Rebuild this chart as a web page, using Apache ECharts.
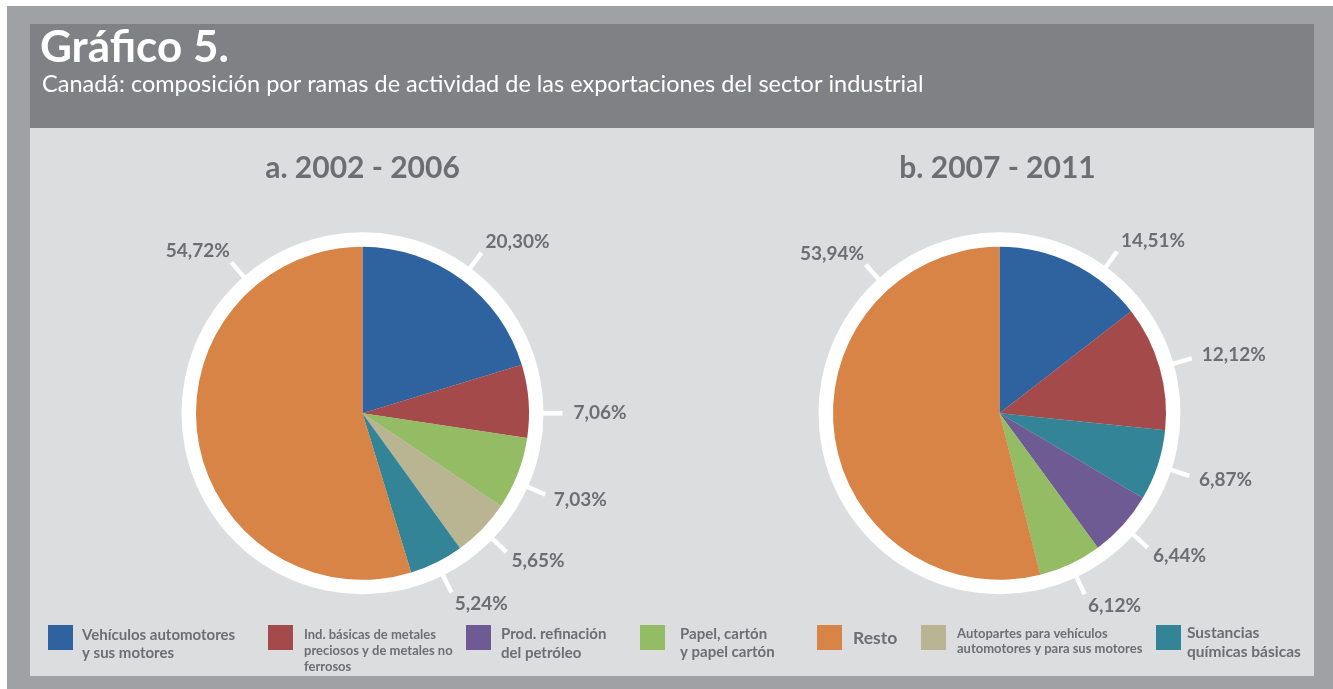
<!DOCTYPE html>
<html><head><meta charset="utf-8">
<script src="https://cdn.jsdelivr.net/npm/echarts@6/dist/echarts.min.js"></script>
<style>html,body{margin:0;padding:0;background:#fff}#c{width:1333px;height:689px}</style>
</head><body><div id="c"></div>
<script>
// ---------- DATA ----------
const chartTitle = 'Gráfico 5.';
const chartSubtitle = 'Canadá: composición por ramas de actividad de las exportaciones del sector industrial';
const categories = [
  'Vehículos automotores y sus motores',
  'Ind. básicas de metales preciosos y de metales no ferrosos',
  'Prod. refinación del petróleo',
  'Papel, cartón y papel cartón',
  'Resto',
  'Autopartes para vehículos automotores y para sus motores',
  'Sustancias químicas básicas'
];
const legendLabels = [
  'Vehículos automotores\ny sus motores',
  'Ind. básicas de metales\npreciosos y de metales no\nferrosos',
  'Prod. refinación\ndel petróleo',
  'Papel, cartón\ny papel cartón',
  'Resto',
  'Autopartes para vehículos\nautomotores y para sus motores',
  'Sustancias\nquímicas básicas'
];
const periodTitles = ['a. 2002 - 2006', 'b. 2007 - 2011'];
const namesA = [categories[0], categories[1], categories[3], categories[5], categories[6], categories[4]];
const valuesA = [20.30, 7.06, 7.03, 5.65, 5.24, 54.72];
const namesB = [categories[0], categories[1], categories[6], categories[2], categories[3], categories[4]];
const valuesB = [14.51, 12.12, 6.87, 6.44, 6.12, 53.94];

// ---------- STYLE ----------
const palette = {};
palette[categories[0]] = '#2e63a0';
palette[categories[1]] = '#a54a4b';
palette[categories[2]] = '#6f5b93';
palette[categories[3]] = '#94bc64';
palette[categories[4]] = '#d78446';
palette[categories[5]] = '#b9b593';
palette[categories[6]] = '#348498';
const GREY = '#6d6e71';
const FONT = 'Lato';
const R_PIE = 166.5, R_RING = 181, R_TICK = 200;
const centers = [[362.5, 413.3], [999.5, 413.3]];
// label angle overrides (degrees clockwise from 12 o'clock), layout only
const angleOverrides = [{}, {}];
angleOverrides[0][categories[4]] = -41;
angleOverrides[0][categories[1]] = 90;
angleOverrides[0][categories[3]] = 114;
angleOverrides[1][categories[4]] = -42;
angleOverrides[1][categories[0]] = 36;

function fmt(v) { return v.toFixed(2).replace('.', ',') + '%'; }

function makeLabelLayout(idx, names, values) {
  const center = centers[idx];
  const total = values.reduce((a, b) => a + b, 0);
  return function (params) {
    const i = params.dataIndex;
    let cum = 0;
    for (let k = 0; k < i; k++) cum += values[k];
    let ang = (cum + values[i] / 2) / total * 360;
    if (angleOverrides[idx][names[i]] != null) ang = angleOverrides[idx][names[i]];
    const rad = ang * Math.PI / 180;
    const s = Math.sin(rad), c = Math.cos(rad);
    const p0 = [center[0] + s * (R_PIE - 2), center[1] - c * (R_PIE - 2)];
    const p1 = [center[0] + s * R_TICK, center[1] - c * R_TICK];
    const w = params.labelRect.width;
    const gap = s >= 0 ? 3 + 8 * Math.pow(s, 4) : 1.5;
    const cx = p1[0] + (s >= 0 ? 1 : -1) * (w / 2 + gap);
    const cy = p1[1] - c * (s >= 0 ? 13 : 15);
    return { x: cx, y: cy, align: 'center', verticalAlign: 'middle', labelLinePoints: [p0, p1, p1] };
  };
}

function pieSeries(idx, names, values) {
  return {
    type: 'pie', name: periodTitles[idx], center: centers[idx], radius: [0, R_PIE],
    startAngle: 90, clockwise: true, avoidLabelOverlap: false, silent: true, z: 3,
    data: names.map((n, i) => ({ name: n, value: values[i], itemStyle: { color: palette[n] } })),
    label: { show: true, formatter: p => fmt(p.value), color: GREY, fontFamily: FONT, fontWeight: 'bold', fontSize: 19 },
    labelLine: { show: true, length: 33, length2: 0, smooth: false, lineStyle: { color: '#ffffff', width: 4.5 } },
    labelLayout: makeLabelLayout(idx, names, values),
    emphasis: { disabled: true }
  };
}
function ringSeries(idx) {
  return {
    type: 'pie', center: centers[idx], radius: [R_PIE - 1, R_RING], silent: true, z: 2,
    data: [{ value: 1, name: '__ring' + idx, itemStyle: { color: '#ffffff' } }],
    label: { show: false }, labelLine: { show: false }, emphasis: { disabled: true }, tooltip: { show: false }
  };
}

// legend layout (style only)
const BOX = 25, LEG_TOP = 625;
const legendLeft = [48, 268, 466, 640, 817, 921, 1156];
const legendFont = [15, 13, 15, 15, 17.5, 13, 15.5];
const legendLH = [18.5, 16, 19, 18, 20, 15, 19];
const legendShift = [6.5, 13.5, 6, 5.5, 1, 3.5, 4.5];
const legendPadLeft = [4, 6, 5, 10, 6, 6, 1];
const labelMap = {};
categories.forEach((c, i) => labelMap[c] = legendLabels[i]);

const legends = categories.map((c, i) => {
  const nLines = legendLabels[i].split('\n').length;
  const H = 2 * legendShift[i] + nLines * legendLH[i];
  const off = Math.max(0, H / 2 - BOX / 2);
  return {
    show: true, left: legendLeft[i], top: LEG_TOP - off, orient: 'horizontal', selectedMode: false,
    icon: 'rect', itemWidth: BOX, itemHeight: BOX, padding: 0,
    data: [{ name: c, itemStyle: { color: palette[c] } }],
    formatter: n => '{p| }\n' + labelMap[n],
    textStyle: { color: GREY, fontFamily: FONT, fontWeight: 'bold', fontSize: legendFont[i], lineHeight: legendLH[i],
      padding: [0, 0, 0, legendPadLeft[i]],
      rich: { p: { fontSize: 1, lineHeight: 2 * legendShift[i] } } }
  };
});

const chart = echarts.init(document.getElementById('c'), null, { renderer: 'canvas' });
chart.setOption({
  backgroundColor: '#ffffff',
  animation: false,
  color: categories.map(c => palette[c]),
  graphic: [
    { type: 'rect', z: -10, silent: true, shape: { x: 7, y: 6, width: 1326, height: 683 }, style: { fill: '#a0a1a4' } },
    { type: 'rect', z: -9, silent: true, shape: { x: 30, y: 24, width: 1284, height: 104 }, style: { fill: '#808185' } },
    { type: 'rect', z: -9, silent: true, shape: { x: 30, y: 128, width: 1284, height: 548 }, style: { fill: '#dcdddf' } }
  ],
  title: [
    { text: chartTitle, left: 40, top: 26, padding: 0, textStyle: { color: '#ffffff', fontFamily: FONT, fontWeight: 'bold', fontSize: 44 } },
    { text: chartSubtitle, left: 42, top: 72, padding: 0, textStyle: { color: '#ffffff', fontFamily: FONT, fontWeight: 'normal', fontSize: 23.5 } },
    { text: periodTitles[0], left: centers[0][0], textAlign: 'center', top: 153, padding: 0, textStyle: { color: GREY, fontFamily: FONT, fontWeight: 'bold', fontSize: 30 } },
    { text: periodTitles[1], left: centers[1][0] - 2, textAlign: 'center', top: 153, padding: 0, textStyle: { color: GREY, fontFamily: FONT, fontWeight: 'bold', fontSize: 30 } }
  ],
  legend: legends,
  series: [ringSeries(0), pieSeries(0, namesA, valuesA), ringSeries(1), pieSeries(1, namesB, valuesB)]
});
</script></body></html>
